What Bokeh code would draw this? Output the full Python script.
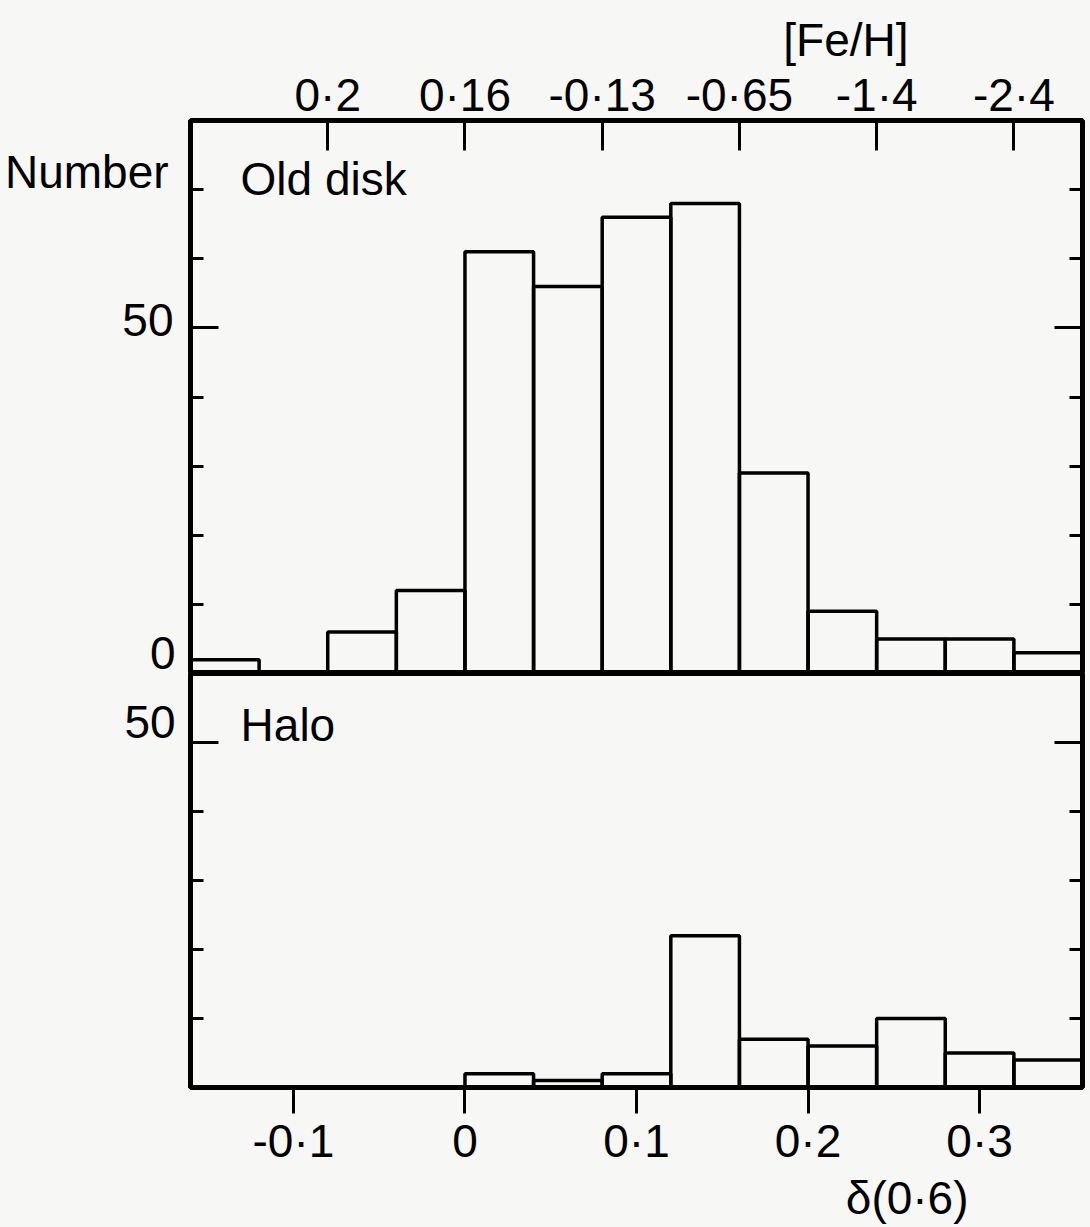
from bokeh.plotting import figure
from bokeh.layouts import column, row
from bokeh.models import Range1d, LinearAxis, FixedTicker, Label
from bokeh.core.properties import value
from bokeh.embed import file_html
from bokeh.resources import INLINE

# ---- data -----------------------------------------------------------------
# histogram bin edges in delta(0.6)
bin_edges = [-0.16, -0.12, -0.08, -0.04, 0.00, 0.04, 0.08, 0.12, 0.16, 0.20, 0.24, 0.28, 0.32, 0.36]
# star counts per bin
old_disk_counts = [2, 0, 6, 12, 61, 56, 66, 68, 29, 9, 5, 5, 3]
halo_counts = [0, 0, 0, 0, 2, 1, 2, 22, 7, 6, 10, 5, 4]

# bottom axis (delta(0.6)) ticks and labels
delta_ticks = [-0.1, 0.0, 0.1, 0.2, 0.3]
delta_labels = ["-0·1", "0", "0·1", "0·2", "0·3"]
# top axis: corresponding [Fe/H] values
feh_ticks = [-0.08, 0.0, 0.08, 0.16, 0.24, 0.32]
feh_labels = ["0·2", "0·16", "-0·13", "-0·65", "-1·4", "-2·4"]

# count axis: long (labelled) ticks and short ticks
old_major = [50]
old_minor = [10, 20, 30, 40, 60, 70]
halo_major = [50]
halo_minor = [10, 20, 30, 40]

X_RANGE = (-0.16, 0.36)
OLD_MAX = 80
HALO_MAX = 60

# page geometry (pixels)
PAGE_H = 1227
STRIP_W = 185                 # margin strip holding the count labels
TOP_H, TOP_BORDER = 673, 120  # old disk panel: canvas height, space above frame
BOT_H, BOT_BORDER = 554, 140  # halo panel: canvas height, space below frame

FONT = "Liberation Sans"
FS = "46px"
BG = "#f7f7f6"

lefts = bin_edges[:-1]
rights = bin_edges[1:]


def base_figure(height, y_max, top, bottom, title, title_loc):
    p = figure(width=905, height=height, title=title, title_location=title_loc,
               x_range=Range1d(*X_RANGE), y_range=Range1d(0, y_max),
               output_backend="svg", toolbar_location=None,
               x_axis_location=None, y_axis_location=None,
               min_border_left=5, min_border_right=8,
               min_border_top=top, min_border_bottom=bottom)
    p.grid.visible = False
    p.background_fill_color = BG
    p.border_fill_color = BG
    p.outline_line_color = "black"
    p.outline_line_width = 5
    p.title.text_font = FONT
    p.title.text_font_size = FS
    p.title.text_font_style = "normal"
    p.title.text_color = "black"
    p.title.align = "right"
    p.title.standoff = 0
    return p


def side_axes(p, major, minor):
    for side in ("left", "right"):
        ax = LinearAxis(ticker=FixedTicker(ticks=major, minor_ticks=minor),
                        axis_line_color=None,
                        major_tick_in=28, major_tick_out=0,
                        minor_tick_in=13, minor_tick_out=0,
                        major_tick_line_width=3, minor_tick_line_width=3,
                        major_label_text_font_size="0px",
                        major_label_text_color=None,
                        major_label_standoff=0)
        p.add_layout(ax, side)


def panel_label(p, x, y, s):
    p.add_layout(Label(x=x, y=y, text=s, text_font=FONT, text_font_size=FS,
                       text_color="black", text_align="left",
                       text_baseline="alphabetic"))


# ---- Old disk panel ----------------------------------------------------------
p1 = base_figure(TOP_H, OLD_MAX, TOP_BORDER, 0, "[Fe/H]", "above")
p1.title.offset = 174
side_axes(p1, old_major, old_minor)

feh_axis = LinearAxis(ticker=FixedTicker(ticks=feh_ticks, minor_ticks=[]),
                      major_label_overrides={t: s for t, s in zip(feh_ticks, feh_labels)},
                      axis_line_color=None,
                      major_tick_in=30, major_tick_out=0, major_tick_line_width=3,
                      major_label_text_font=FONT, major_label_text_font_size=FS,
                      major_label_text_color="black",
                      major_label_standoff=0)
p1.add_layout(feh_axis, "above")

p1.quad(left=lefts, right=rights, bottom=0, top=old_disk_counts,
        fill_color=None, line_color="black", line_width=3.5)
panel_label(p1, -0.1308, 71.5, "Old disk")

# ---- Halo panel --------------------------------------------------------------
p2 = base_figure(BOT_H, HALO_MAX, 0, BOT_BORDER, "δ(0·6)", "below")
p2.title.offset = 114
side_axes(p2, halo_major, halo_minor)

delta_axis = LinearAxis(ticker=FixedTicker(ticks=delta_ticks, minor_ticks=[]),
                        major_label_overrides={t: s for t, s in zip(delta_ticks, delta_labels)},
                        axis_line_color=None,
                        major_tick_in=0, major_tick_out=26, major_tick_line_width=3,
                        major_label_text_font=FONT, major_label_text_font_size=FS,
                        major_label_text_color="black",
                        major_label_standoff=1)
p2.add_layout(delta_axis, "below")

p2.quad(left=lefts, right=rights, bottom=0, top=halo_counts,
        fill_color=None, line_color="black", line_width=3.5)
panel_label(p2, -0.1308, 52.6, "Halo")

# ---- left margin strip with the count labels -----------------------------------
# Its ranges continue the panels' own scales over the whole page height.
old_ppu = (TOP_H - TOP_BORDER) / OLD_MAX
halo_ppu = (BOT_H - BOT_BORDER) / HALO_MAX
old_span = (-(PAGE_H - TOP_H) / old_ppu, OLD_MAX + TOP_BORDER / old_ppu)
halo_span = (-BOT_BORDER / halo_ppu, HALO_MAX + TOP_H / halo_ppu)
strip_x = (X_RANGE[0] - 190 / 1715, X_RANGE[0] - 5 / 1715)

strip = figure(width=STRIP_W, height=PAGE_H,
               x_range=Range1d(*strip_x), y_range=Range1d(*old_span),
               extra_y_ranges={"halo": Range1d(*halo_span)},
               output_backend="svg", toolbar_location=None,
               x_axis_location=None, y_axis_location=None,
               min_border_left=0, min_border_right=0,
               min_border_top=0, min_border_bottom=0)
strip.grid.visible = False
strip.outline_line_color = None
strip.background_fill_color = BG
strip.border_fill_color = BG
strip.text(x=[-0.1728, -0.1699, -0.1687], y=[72.6, 51.2, 2.9],
           text=["Number", "50", "0"], text_font=value(FONT),
           text_font_size=value(FS), text_color="black",
           text_align="right", text_baseline="alphabetic")
strip.text(x=[-0.1687], y=[52.9], text=["50"], y_range_name="halo",
           text_font=value(FONT), text_font_size=value(FS), text_color="black",
           text_align="right", text_baseline="alphabetic")

bg = {"background-color": BG}
layout = row(strip, column(p1, p2, spacing=0, styles=bg), spacing=0, styles=bg)
open("out.html", "w").write(file_html(layout, INLINE))
